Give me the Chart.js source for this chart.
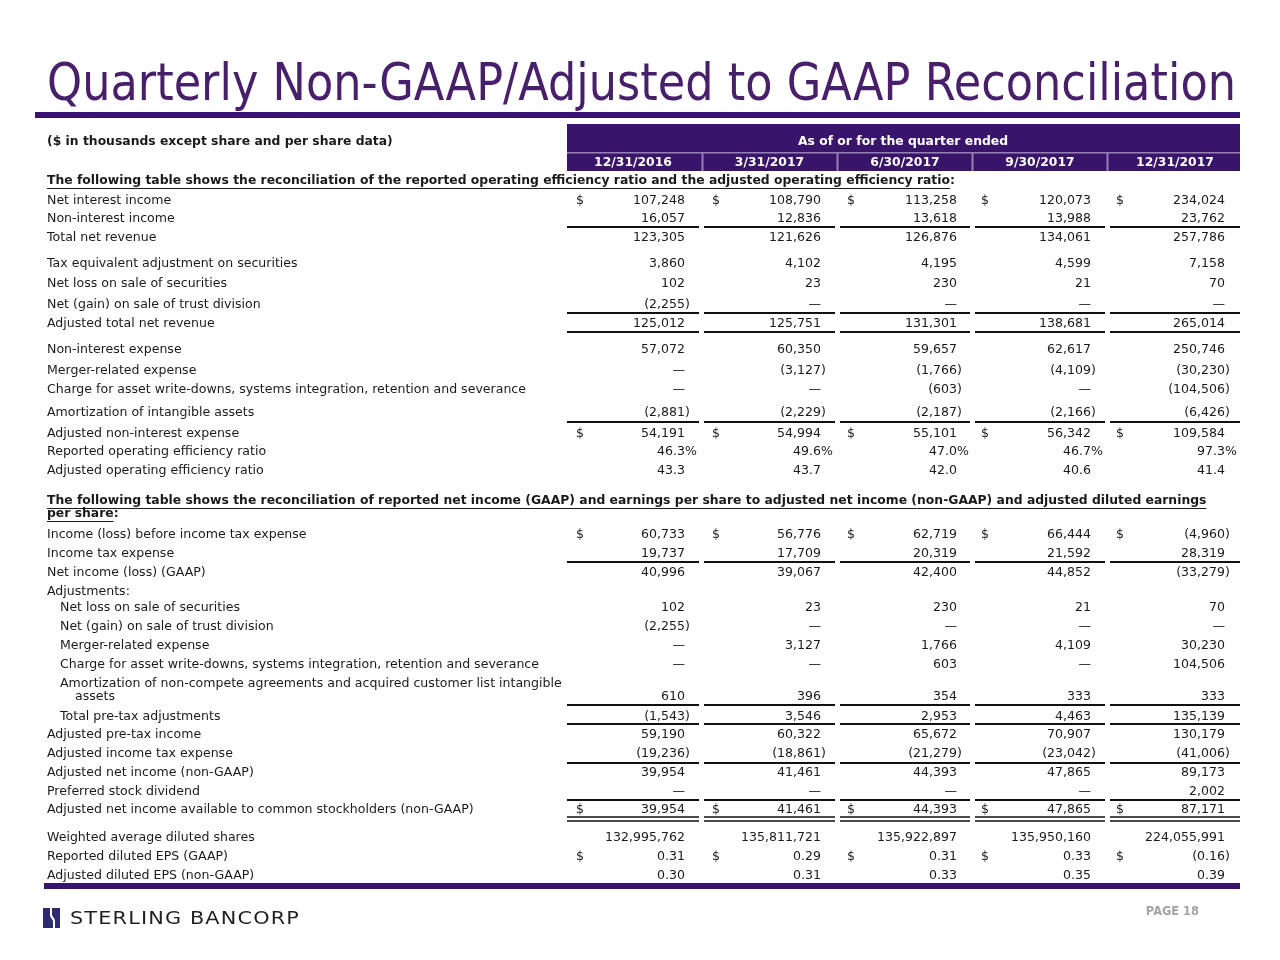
<!DOCTYPE html>
<html>
<head>
<meta charset="utf-8">
<script src="https://cdn.jsdelivr.net/npm/chart.js@4.4.0/dist/chart.umd.min.js"></script>
<style>
  html, body { margin: 0; padding: 0; background: #fff; }
  #recon { display: block; }
</style>
</head>
<body>
<canvas id="recon" width="1280" height="960"></canvas>
<script>
// ---- data ----
const quarters = ["12/31/2016", "3/31/2017", "6/30/2017", "9/30/2017", "12/31/2017"];

const rowLabels = [
	"Net interest income",
	"Non-interest income",
	"Total net revenue",
	"Tax equivalent adjustment on securities",
	"Net loss on sale of securities",
	"Net (gain) on sale of trust division",
	"Adjusted total net revenue",
	"Non-interest expense",
	"Merger-related expense",
	"Charge for asset write-downs, systems integration, retention and severance",
	"Amortization of intangible assets",
	"Adjusted non-interest expense",
	"Reported operating efficiency ratio",
	"Adjusted operating efficiency ratio",
	"Income (loss) before income tax expense",
	"Income tax expense",
	"Net income (loss) (GAAP)",
	"Adjustments:",
	"Net loss on sale of securities",
	"Net (gain) on sale of trust division",
	"Merger-related expense",
	"Charge for asset write-downs, systems integration, retention and severance",
	"Amortization of non-compete agreements and acquired customer list intangible\nassets",
	"Total pre-tax adjustments",
	"Adjusted pre-tax income",
	"Adjusted income tax expense",
	"Adjusted net income (non-GAAP)",
	"Preferred stock dividend",
	"Adjusted net income available to common stockholders (non-GAAP)",
	"Weighted average diluted shares",
	"Reported diluted EPS (GAAP)",
	"Adjusted diluted EPS (non-GAAP)",
];

const q4_2016 = [107248, 16057, 123305, 3860, 102, -2255, 125012, 57072, 0, 0, -2881, 54191, 46.3, 43.3,
	60733, 19737, 40996, null, 102, -2255, 0, 0, 610, -1543, 59190, -19236, 39954, 0, 39954, 132995762, 0.31, 0.30];
const q1_2017 = [108790, 12836, 121626, 4102, 23, 0, 125751, 60350, -3127, 0, -2229, 54994, 49.6, 43.7,
	56776, 17709, 39067, null, 23, 0, 3127, 0, 396, 3546, 60322, -18861, 41461, 0, 41461, 135811721, 0.29, 0.31];
const q2_2017 = [113258, 13618, 126876, 4195, 230, 0, 131301, 59657, -1766, -603, -2187, 55101, 47.0, 42.0,
	62719, 20319, 42400, null, 230, 0, 1766, 603, 354, 2953, 65672, -21279, 44393, 0, 44393, 135922897, 0.31, 0.33];
const q3_2017 = [120073, 13988, 134061, 4599, 21, 0, 138681, 62617, -4109, 0, -2166, 56342, 46.7, 40.6,
	66444, 21592, 44852, null, 21, 0, 4109, 0, 333, 4463, 70907, -23042, 47865, 0, 47865, 135950160, 0.33, 0.35];
const q4_2017 = [234024, 23762, 257786, 7158, 70, 0, 265014, 250746, -30230, -104506, -6426, 109584, 97.3, 41.4,
	-4960, 28319, -33279, null, 70, 0, 30230, 104506, 333, 135139, 130179, -41006, 89173, 2002, 87171, 224055991, -0.16, 0.39];

const series = [q4_2016, q1_2017, q2_2017, q3_2017, q4_2017];

// row formatting
const dollarRows = [0, 11, 14, 28, 30];
const pctRow = 12;
const oneDecRows = [12, 13];
const epsRows = [30, 31];
const indentRows = [18, 19, 20, 21, 22, 23];

// ---- layout (pixels on the 1280x960 page) ----
const rowY = [200, 218, 237, 263, 283, 304, 323, 349, 370, 389, 412, 433, 451, 470,
	534, 553, 572, 591, 607, 626, 645, 664, 696, 716, 734, 753, 772, 791, 809, 837, 856, 875];
const colEdge = [685, 821, 957, 1091, 1225];
const dollarX = [576, 712, 847, 981, 1116];
const colSpan = [[567, 699], [704, 835], [840, 970], [975, 1105], [1110, 1240]];
const rules = [227, 313, 332, 422, 562, 705, 724, 763, 800];
const doubleRule = [817, 821];

const colors = {
	title: "hsl(272, 55%, 27%)",
	band: "hsl(265, 68%, 25%)",
	bandLine: "hsl(265, 25%, 60%)",
	text: "#1a1a1a",
	rule: "#111",
	logo: "hsl(243, 45%, 30%)",
	page: "#a3a3a3",
};
const FONT = '"DejaVu Sans", Verdana, sans-serif';
const NUDGE = 1; // middle baseline sits a touch high

const heading1 = "The following table shows the reconciliation of the reported operating efficiency ratio and the adjusted operating efficiency ratio";
const heading2a = "The following table shows the reconciliation of reported net income (GAAP) and earnings per share to adjusted net income (non-GAAP) and adjusted diluted earnings";
const heading2b = "per share";
const titleText = "Quarterly Non-GAAP/Adjusted to GAAP Reconciliation";

const fitK = (ctx, font, s, w) => {
	ctx.font = font;
	return w / ctx.measureText(s).width;
};
const put = (ctx, s, x, y, align, k) => {
	ctx.save();
	ctx.translate(x, y);
	ctx.scale(k, 1);
	ctx.textAlign = align;
	ctx.fillText(s, 0, 0);
	const w = ctx.measureText(s).width * k;
	ctx.restore();
	return w;
};

const cellText = (v, r) => {
	const dec = epsRows.includes(r) ? 2 : oneDecRows.includes(r) ? 1 : 0;
	if (v === 0 && dec === 0) return { body: "\u2014", tail: "" };
	const s = Math.abs(v).toLocaleString("en-US", { minimumFractionDigits: dec, maximumFractionDigits: dec });
	if (v < 0) return { body: "(" + s, tail: ")" };
	return { body: s, tail: r === pctRow ? "%" : "" };
};

const pagePlugin = {
	id: "pageFrame",
	beforeDatasetsDraw(chart) {
		const ctx = chart.ctx;
		const X = v => chart.scales.x.getPixelForValue(v);
		const Y = v => chart.scales.y.getPixelForValue(v);
		const bodyFont = "13px " + FONT;
		const boldFont = "bold 13px " + FONT;
		const kBody = fitK(ctx, bodyFont, rowLabels[9], 479);
		const kBold = fitK(ctx, boldFont, heading1, 903);

		ctx.save();
		ctx.textBaseline = "alphabetic";

		// title
		const titleFont = "51px " + FONT;
		const kTitle = fitK(ctx, titleFont, titleText, 1189);
		ctx.font = titleFont;
		ctx.fillStyle = colors.title;
		put(ctx, titleText, X(47), Y(100), "left", kTitle);
		ctx.fillStyle = colors.band;
		ctx.fillRect(X(35), Y(112), X(1240) - X(35), Y(118) - Y(112));

		// header band
		ctx.fillRect(X(567), Y(124), X(1240) - X(567), Y(171) - Y(124));
		ctx.fillStyle = colors.bandLine;
		ctx.fillRect(X(567), Y(152), X(1240) - X(567), 1.5);
		[702.5, 837.5, 972.5, 1107.5].forEach(x => ctx.fillRect(X(x) - 1, Y(153), 2, Y(171) - Y(153)));

		ctx.textBaseline = "middle";
		ctx.font = boldFont;
		ctx.fillStyle = "#fff";
		put(ctx, "As of or for the quarter ended", X(903), Y(141) + NUDGE, "center", kBold);
		quarters.forEach((q, i) => {
			put(ctx, q, X((colSpan[i][0] + colSpan[i][1]) / 2), Y(162) + NUDGE, "center", kBold);
		});

		// headings
		ctx.fillStyle = colors.text;
		ctx.strokeStyle = colors.text;
		ctx.lineWidth = 1;
		put(ctx, "($ in thousands except share and per share data)", X(47), Y(141) + NUDGE, "left", kBold);
		const underlined = (s, x, y) => {
			const w = put(ctx, s, X(x), Y(y) + NUDGE, "left", kBold);
			ctx.beginPath();
			ctx.moveTo(X(x), Y(y) + 8.5);
			ctx.lineTo(X(x) + w, Y(y) + 8.5);
			ctx.stroke();
			put(ctx, ":", X(x) + w, Y(y) + NUDGE, "left", kBold);
		};
		underlined(heading1, 47, 180);
		const w2 = put(ctx, heading2a, X(47), Y(500) + NUDGE, "left", kBold);
		ctx.beginPath();
		ctx.moveTo(X(47), Y(500) + 8.5);
		ctx.lineTo(X(47) + w2, Y(500) + 8.5);
		ctx.stroke();
		underlined(heading2b, 47, 513);

		// row labels
		ctx.font = bodyFont;
		rowLabels.forEach((lab, r) => {
			const x = indentRows.includes(r) ? 60 : 47;
			const lines = lab.split("\n");
			if (lines.length > 1) {
				put(ctx, lines[0], X(x), Y(rowY[r] - 13) + NUDGE, "left", kBody);
				put(ctx, lines[1], X(x + 15), Y(rowY[r]) + NUDGE, "left", kBody);
			} else {
				put(ctx, lab, X(x), Y(rowY[r]) + NUDGE, "left", kBody);
			}
		});

		// rules
		ctx.fillStyle = colors.rule;
		rules.forEach(y => {
			colSpan.forEach(([a, b]) => ctx.fillRect(X(a), Y(y) - 1, X(b) - X(a), 2));
		});
		doubleRule.forEach(y => {
			colSpan.forEach(([a, b]) => ctx.fillRect(X(a), Y(y) - 0.75, X(b) - X(a), 1.5));
		});

		// bottom band + footer
		ctx.fillStyle = colors.band;
		ctx.fillRect(X(44), Y(883), X(1240) - X(44), Y(889) - Y(883));

		ctx.fillStyle = colors.logo;
		ctx.beginPath();
		ctx.moveTo(X(43), Y(908)); ctx.lineTo(X(50), Y(908)); ctx.lineTo(X(50), Y(916));
		ctx.lineTo(X(53), Y(921)); ctx.lineTo(X(53), Y(928)); ctx.lineTo(X(43), Y(928));
		ctx.closePath(); ctx.fill();
		ctx.beginPath();
		ctx.moveTo(X(52), Y(908)); ctx.lineTo(X(60), Y(908)); ctx.lineTo(X(60), Y(928));
		ctx.lineTo(X(55), Y(928)); ctx.lineTo(X(55), Y(920)); ctx.lineTo(X(52), Y(915));
		ctx.closePath(); ctx.fill();

		ctx.fillStyle = "#231f20";
		const logoFont = "18px " + FONT;
		ctx.letterSpacing = "1px";
		const kLogo = fitK(ctx, logoFont, "STERLING BANCORP", 230);
		put(ctx, "STERLING BANCORP", X(70), Y(919), "left", kLogo);
		ctx.letterSpacing = "0px";

		ctx.fillStyle = colors.page;
		ctx.font = "bold 12px " + FONT;
		put(ctx, "PAGE 18", X(1199), Y(912), "right", kBold);
		ctx.restore();
	},
	afterDatasetsDraw(chart) {
		const ctx = chart.ctx;
		const X = v => chart.scales.x.getPixelForValue(v);
		const bodyFont = "13px " + FONT;
		const kBody = fitK(ctx, bodyFont, rowLabels[9], 479);
		ctx.save();
		ctx.font = bodyFont;
		ctx.textBaseline = "middle";
		ctx.fillStyle = colors.text;
		chart.data.datasets.forEach((ds, i) => {
			const meta = chart.getDatasetMeta(i);
			meta.data.forEach((pt, r) => {
				const v = ds.data[r].v;
				if (v === null) return;
				const { body, tail } = cellText(v, r);
				const y = pt.y + NUDGE;
				put(ctx, body, pt.x, y, "right", kBody);
				if (tail) put(ctx, tail, pt.x, y, "left", kBody);
				if (dollarRows.includes(r)) put(ctx, "$", X(dollarX[i]), y, "left", kBody);
			});
		});
		ctx.restore();
	},
};

new Chart(document.getElementById("recon"), {
	type: "scatter",
	data: {
		datasets: series.map((vals, i) => ({
			label: quarters[i],
			data: vals.map((v, r) => ({ x: colEdge[i], y: rowY[r], v: v })),
			pointRadius: 0,
			pointHoverRadius: 0,
		})),
	},
	options: {
		responsive: false,
		animation: false,
		events: [],
		layout: { padding: 0 },
		scales: {
			x: { type: "linear", min: 0, max: 1280, display: false },
			y: { type: "linear", min: 0, max: 960, reverse: true, display: false },
		},
		plugins: {
			legend: { display: false },
			tooltip: { enabled: false },
		},
	},
	plugins: [pagePlugin],
});
</script>
</body>
</html>
